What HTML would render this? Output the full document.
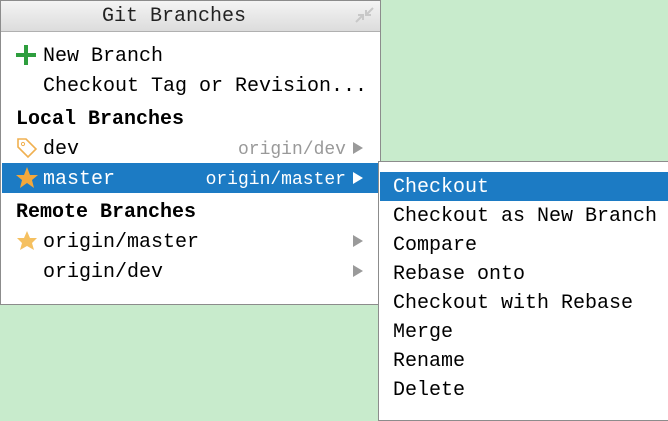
<!DOCTYPE html>
<html><head><style>
body{margin:0;width:668px;height:410px;background:#c8ebcc;position:relative;overflow:hidden;font-family:"Liberation Mono",monospace;font-size:20px;color:#000}
.p{position:absolute;background:#fff;border:1px solid #8c8c8c;box-sizing:border-box}
.t{position:absolute;white-space:pre;line-height:30px}
.r{position:absolute;white-space:pre;line-height:30px;font-size:18px;text-align:right;width:200px;left:146px}
.hl{position:absolute;background:#1c7bc4}
.ar{position:absolute;width:0;height:0;border-top:6px solid transparent;border-bottom:6px solid transparent;border-left:10px solid #9a9a9a}
</style></head><body>
<div class="p" style="left:0;top:0;width:381px;height:305px">
 <div style="position:absolute;left:0;top:0;right:0;height:30px;background:linear-gradient(#f4f4f4,#dcdcdc);border-bottom:1px solid #b0b0b0"></div>
</div>
<div class="t" style="left:0;width:348px;top:2px;text-align:center;color:#222">Git Branches</div>
<svg style="position:absolute;left:353px;top:5px" width="24" height="20"><path d="M20 3 L13 10 M13 5 L13 10 L18 10 M3 17 L10 10 M10 15 L10 10 L5 10" stroke="#c8c8c8" stroke-width="2" fill="none"/></svg>
<svg style="position:absolute;left:15px;top:44px" width="22" height="22"><path d="M11 1V21M1 11H21" stroke="#2e9e3e" stroke-width="4"/></svg>
<div class="t" style="left:43px;top:42px">New Branch</div>
<div class="t" style="left:43px;top:72px">Checkout Tag or Revision...</div>
<div class="t" style="left:16px;top:105px;font-weight:bold">Local Branches</div>
<svg style="position:absolute;left:16px;top:137px" width="22" height="22"><path d="M2 2H10L20 12L12 20L2 10Z" fill="none" stroke="#f0b050" stroke-width="1.6"/><circle cx="7" cy="7" r="1.6" fill="none" stroke="#f0b050"/></svg>
<div class="t" style="left:43px;top:135px">dev</div>
<div class="r" style="top:135px;color:#999">origin/dev</div>
<div class="ar" style="left:353px;top:142px"></div>
<div class="hl" style="left:2px;top:163px;width:377px;height:30px"></div>
<svg style="position:absolute;left:15px;top:166px" width="24" height="24"><path d="M12 1L15 9L23 9L17 14L19 22L12 17L5 22L7 14L1 9L9 9Z" fill="#f3a83b"/></svg>
<div class="t" style="left:43px;top:165px;color:#fff">master</div>
<div class="r" style="top:165px;color:#fff">origin/master</div>
<div class="ar" style="left:353px;top:172px;border-left-color:#fff"></div>
<div class="t" style="left:16px;top:198px;font-weight:bold">Remote Branches</div>
<svg style="position:absolute;left:16px;top:230px" width="22" height="22"><path d="M11 1L14 8L21 8L16 13L18 20L11 16L4 20L6 13L1 8L8 8Z" fill="#f5c060"/></svg>
<div class="t" style="left:43px;top:228px">origin/master</div>
<div class="ar" style="left:353px;top:235px"></div>
<div class="t" style="left:43px;top:258px">origin/dev</div>
<div class="ar" style="left:353px;top:265px"></div>
<div class="p" style="left:378px;top:161px;width:300px;height:260px"></div>
<div class="hl" style="left:380px;top:172px;width:288px;height:29px"></div>
<div class="t" style="left:393px;top:173px;color:#fff">Checkout</div>
<div class="t" style="left:393px;top:202px">Checkout as New Branch</div>
<div class="t" style="left:393px;top:231px">Compare</div>
<div class="t" style="left:393px;top:260px">Rebase onto</div>
<div class="t" style="left:393px;top:289px">Checkout with Rebase</div>
<div class="t" style="left:393px;top:318px">Merge</div>
<div class="t" style="left:393px;top:347px">Rename</div>
<div class="t" style="left:393px;top:376px">Delete</div>
</body></html>
